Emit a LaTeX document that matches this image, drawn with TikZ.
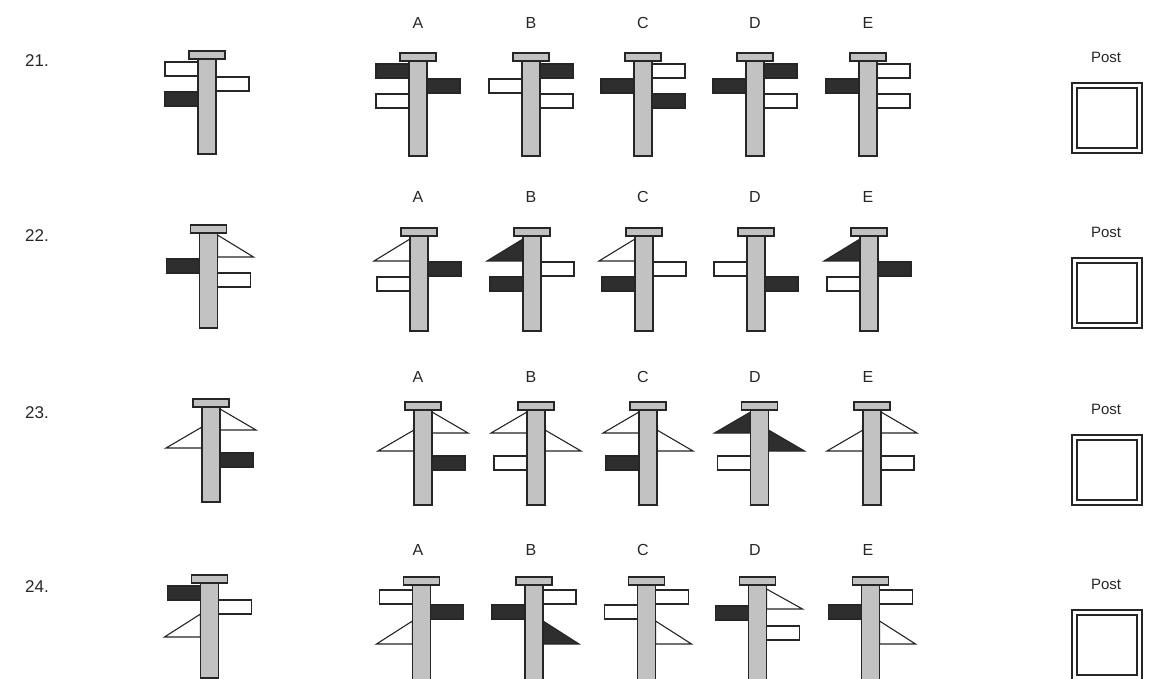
\documentclass[tikz,border=0pt]{standalone}
\usepackage{fontspec}
\setmainfont{Liberation Sans}
\tikzset{
  outl/.style={draw=black!85, line width=1.1pt, line join=miter},
  wsign/.style={outl, fill=white},
  dsign/.style={outl, fill=black!82},
  postbar/.style={outl, fill=black!24},
  lbl/.style={font=\fontsize{16}{18}\selectfont, text=black!85, inner sep=0pt},
  nlbl/.style={font=\fontsize{17}{19}\selectfont, text=black!85, inner sep=0pt},
  plbl/.style={font=\fontsize{15}{17}\selectfont, text=black!85, inner sep=0pt},
  sqo/.style={draw=black!85, line width=1.3pt}
}
% rectangular sign: side (-1 left, 1 right), top offset, style
\newcommand{\rsg}[3]{\draw[#3] ({#1*9},{#2}) rectangle ({#1*42},{#2+14});}
% triangular sign: side, top offset, base offset, style
\newcommand{\tsg}[4]{\draw[#4] ({#1*9},{#2}) -- ({#1*45},{#3}) -- ({#1*9},{#3}) -- cycle;}
% signpost: x, cap top y, signs
\newcommand{\spost}[3]{\begin{scope}[shift={(#1,#2)}]#3
  \draw[postbar] (-9,8) rectangle (9,103);
  \draw[postbar] (-18,0) rectangle (18,8);
\end{scope}}
\newcommand{\pbox}[2]{%
  \node[plbl] (post#1) at (1106,#2) {Post};
  \draw[sqo] (1072,{#2+26}) rectangle (1142,{#2+96});
  \draw[sqo] (1077,{#2+31}) rectangle (1137,{#2+91});}
\begin{document}
\begin{tikzpicture}[x=1pt,y=-1pt]
\useasboundingbox (0,0) rectangle (1149,679);
% row labels
\node[nlbl, anchor=west] (n21) at (25,61) {21.};
\node[nlbl, anchor=west] (n22) at (25,236) {22.};
\node[nlbl, anchor=west] (n23) at (25,413) {23.};
\node[nlbl, anchor=west] (n24) at (25,587) {24.};
% option letters
\foreach \r/\yy in {21/23,22/197,23/377,24/550}{
  \foreach \l/\xx in {A/418,B/531,C/643,D/755,E/868}{
    \node[lbl] (\l\r) at (\xx,\yy) {\l};
  }
}
% Post boxes
\pbox{21}{57}
\pbox{22}{232}
\pbox{23}{409}
\pbox{24}{584}
% ---------- Row 21 ----------
\spost{207}{51}{\rsg{-1}{11}{wsign}\rsg{1}{26}{wsign}\rsg{-1}{41}{dsign}}
\spost{418}{53}{\rsg{-1}{11}{dsign}\rsg{1}{26}{dsign}\rsg{-1}{41}{wsign}}
\spost{531}{53}{\rsg{1}{11}{dsign}\rsg{-1}{26}{wsign}\rsg{1}{41}{wsign}}
\spost{643}{53}{\rsg{1}{11}{wsign}\rsg{-1}{26}{dsign}\rsg{1}{41}{dsign}}
\spost{755}{53}{\rsg{1}{11}{dsign}\rsg{-1}{26}{dsign}\rsg{1}{41}{wsign}}
\spost{868}{53}{\rsg{1}{11}{wsign}\rsg{-1}{26}{dsign}\rsg{1}{41}{wsign}}
% ---------- Row 22 ----------
\spost{208.5}{225}{\tsg{1}{10}{32}{wsign}\rsg{-1}{34}{dsign}\rsg{1}{48}{wsign}}
\spost{419}{228}{\tsg{-1}{11}{33}{wsign}\rsg{1}{34}{dsign}\rsg{-1}{49}{wsign}}
\spost{532}{228}{\tsg{-1}{11}{33}{dsign}\rsg{1}{34}{wsign}\rsg{-1}{49}{dsign}}
\spost{644}{228}{\tsg{-1}{11}{33}{wsign}\rsg{1}{34}{wsign}\rsg{-1}{49}{dsign}}
\spost{756}{228}{\rsg{-1}{34}{wsign}\rsg{1}{49}{dsign}}
\spost{869}{228}{\tsg{-1}{11}{33}{dsign}\rsg{1}{34}{dsign}\rsg{-1}{49}{wsign}}
% ---------- Row 23 ----------
\spost{211}{399}{\tsg{1}{10}{31}{wsign}\tsg{-1}{28}{49}{wsign}\rsg{1}{54}{dsign}}
\spost{423}{402}{\tsg{1}{10}{31}{wsign}\tsg{-1}{28}{49}{wsign}\rsg{1}{54}{dsign}}
\spost{536}{402}{\tsg{-1}{10}{31}{wsign}\tsg{1}{28}{49}{wsign}\rsg{-1}{54}{wsign}}
\spost{648}{402}{\tsg{-1}{10}{31}{wsign}\tsg{1}{28}{49}{wsign}\rsg{-1}{54}{dsign}}
\spost{759.5}{402}{\tsg{-1}{10}{31}{dsign}\tsg{1}{28}{49}{dsign}\rsg{-1}{54}{wsign}}
\spost{872}{402}{\tsg{1}{10}{31}{wsign}\tsg{-1}{28}{49}{wsign}\rsg{1}{54}{wsign}}
% ---------- Row 24 ----------
\spost{209.5}{575}{\rsg{-1}{11}{dsign}\rsg{1}{25}{wsign}\tsg{-1}{39}{62}{wsign}}
\spost{421.5}{577}{\rsg{-1}{13}{wsign}\rsg{1}{28}{dsign}\tsg{-1}{44}{67}{wsign}}
\spost{534}{577}{\rsg{1}{13}{wsign}\rsg{-1}{28}{dsign}\tsg{1}{44}{67}{dsign}}
\spost{646.5}{577}{\rsg{1}{13}{wsign}\rsg{-1}{28}{wsign}\tsg{1}{44}{67}{wsign}}
\spost{757.5}{577}{\tsg{1}{12}{32}{wsign}\rsg{-1}{29}{dsign}\rsg{1}{49}{wsign}}
\spost{870.5}{577}{\rsg{1}{13}{wsign}\rsg{-1}{28}{dsign}\tsg{1}{44}{67}{wsign}}
\end{tikzpicture}
\end{document}
